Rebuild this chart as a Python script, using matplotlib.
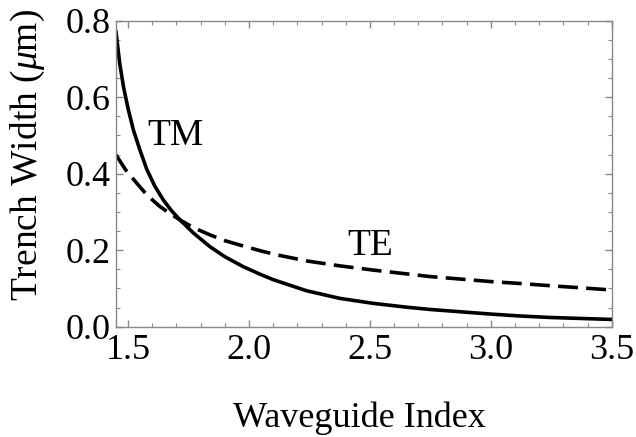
import numpy as np
import matplotlib.pyplot as plt
from matplotlib.ticker import MultipleLocator

plt.rcParams['font.family'] = ['Liberation Serif', 'DejaVu Serif']
plt.rcParams['mathtext.fontset'] = 'custom'
plt.rcParams['mathtext.it'] = 'Liberation Serif:italic'
plt.rcParams['mathtext.rm'] = 'Liberation Serif'

# values
tm_x = [1.45, 1.465, 1.481, 1.50, 1.522, 1.55, 1.577, 1.61, 1.646, 1.68, 1.715,
        1.77, 1.839, 1.90, 1.976, 2.05, 2.10, 2.238, 2.376, 2.514, 2.652, 2.75,
        3.0, 3.12, 3.25, 3.5]
tm_y = [0.771, 0.69, 0.627, 0.57, 0.514, 0.46, 0.412, 0.368, 0.331, 0.303, 0.279,
        0.245, 0.209, 0.183, 0.157, 0.136, 0.123, 0.094, 0.074, 0.061, 0.051, 0.045,
        0.033, 0.028, 0.024, 0.019]
te_x = [1.45, 1.49, 1.536, 1.58, 1.632, 1.68, 1.715, 1.77, 1.839, 1.90, 1.976,
        2.05, 2.114, 2.238, 2.376, 2.514, 2.75, 3.0, 3.12, 3.25, 3.5]
te_y = [0.449, 0.41, 0.375, 0.343, 0.314, 0.293, 0.279, 0.259, 0.240, 0.225, 0.211,
        0.198, 0.188, 0.172, 0.159, 0.148, 0.131, 0.118, 0.113, 0.107, 0.096]

fig = plt.figure(figsize=(6.36, 4.37), dpi=100)
ax = fig.add_axes([0.1824, 0.2524, 0.7794, 0.7002])

ax.plot(tm_x, tm_y, color='black', lw=2.6)
ax.plot(te_x, te_y, color='black', lw=2.6, dashes=(5.5, 2.3))

ax.text(1.694, 0.50, 'TM', fontsize=27, ha='center', va='center')
ax.text(2.50, 0.211, 'TE', fontsize=27, ha='center', va='center')

ax.set_xlim(1.45, 3.5)
ax.set_ylim(0, 0.8)
ax.xaxis.set_major_locator(MultipleLocator(0.5))
ax.xaxis.set_minor_locator(MultipleLocator(0.1))
ax.yaxis.set_major_locator(MultipleLocator(0.2))
ax.yaxis.set_minor_locator(MultipleLocator(0.05))
ax.xaxis.set_major_formatter(plt.FormatStrFormatter('%.1f'))
ax.yaxis.set_major_formatter(plt.FormatStrFormatter('%.1f'))

ax.tick_params(which='both', direction='in', top=True, right=True, color='#888888', labelsize=26)
ax.tick_params(axis='x', pad=5)
ax.tick_params(axis='y', pad=4)
ax.tick_params(which='major', length=5, width=1)
ax.tick_params(which='minor', length=3, width=0.8)
for s in ax.spines.values():
    s.set_color('#888888')
    s.set_linewidth(1)

ax.set_xlabel('Waveguide Index', fontsize=26)
ax.set_ylabel(r'Trench Width ($\mathit{\mu}$m)', fontsize=27)
ax.xaxis.set_label_coords(0.49, -0.245)
ax.yaxis.set_label_coords(-0.14, 0.56)

fig.savefig('out.png', dpi=100)
